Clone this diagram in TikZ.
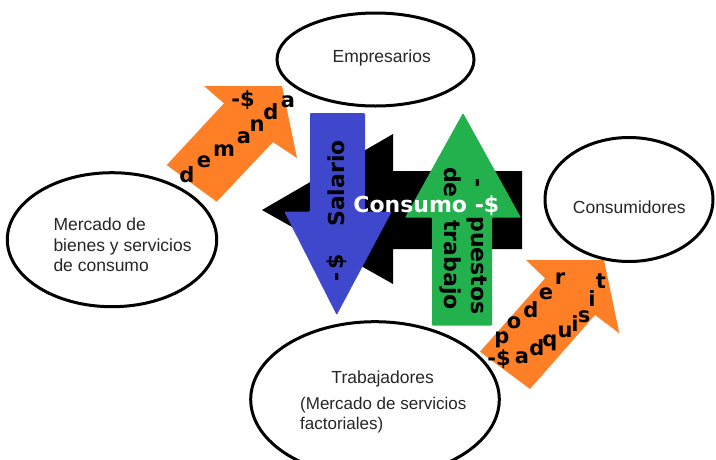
\documentclass[tikz,border=0pt]{standalone}
\usepackage{fontspec}
\setmainfont{Liberation Sans}
\newfontfamily\dvb{DejaVu Sans}
\definecolor{orng}{HTML}{FF7F27}
\definecolor{blu}{HTML}{3F48CC}
\definecolor{grn}{HTML}{22B14C}
\begin{document}
\begin{tikzpicture}[x=1pt,y=-1pt,
  lab/.style={font=\fontsize{17.5}{20.5}\selectfont, text=black!85, inner sep=0pt},
  blet/.style={font=\dvb\bfseries\fontsize{21}{24}\selectfont, inner sep=0pt},
  vtxt/.style={font=\dvb\bfseries\fontsize{22}{26}\selectfont, inner sep=0pt},
  bigw/.style={font=\dvb\bfseries\fontsize{22}{26}\selectfont, text=white, inner sep=0pt},
  ell/.style={draw=black, line width=3pt, fill=white}]
\useasboundingbox (0,0) rectangle (716,459);
\clip (0,0) rectangle (716,459);

% orange arrows
\fill[orng] (204,86) -- (282,86) -- (297,158) -- (273,142) -- (216.7,201.7) -- (166.7,165) -- (224,103.3) -- cycle;
\fill[orng] (526,260) -- (604,260) -- (619.3,333.3) -- (595,315) -- (530,389) -- (480,351.7) -- (545,278.3) -- cycle;

% black arrow (left)
\fill[black] (262,210) -- (393,134) -- (393,171) -- (522,171) -- (522,249) -- (393,249) -- (393,284) -- cycle;
% blue arrow (down)
\fill[blu, rounded corners=1pt] (310,113) -- (365,113) -- (365,211.7) -- (391.7,211.7) -- (336.7,315) -- (284.3,211.7) -- (310,211.7) -- cycle;
% green arrow (up)
\fill[grn, rounded corners=1pt] (463,113) -- (521,217.7) -- (492,217.7) -- (492,325.7) -- (432,325.7) -- (432,217.7) -- (405,217.7) -- cycle;

% ellipses
\coordinate (cEmp) at (375.5,59.5);
\coordinate (cCon) at (629,199.5);
\coordinate (cMer) at (112,239.7);
\coordinate (cTra) at (375,399.5);
\draw[ell] (cEmp) ellipse [x radius=98.5pt, y radius=46.5pt];
\draw[ell] (cCon) ellipse [x radius=84pt, y radius=62pt];
\draw[ell] (cMer) ellipse [x radius=104.7pt, y radius=67pt];
\draw[ell] (cTra) ellipse [x radius=124.3pt, y radius=77.8pt];

% ellipse texts
\node[lab] (tEmp) at (381.7,58.3) {Empresarios};
\node[lab] (tCon) at (629.3,207.3) {Consumidores};
\node[lab, align=left, anchor=west] (tMer) at (53.3,245) {Mercado de\\bienes y servicios\\de consumo};
\node[lab] (tTra) at (382.7,379.3) {Trabajadores};
\node[lab, align=left, anchor=west, font=\fontsize{17}{20.5}\selectfont] (tTra2) at (300,415) {(Mercado de servicios\\factoriales)};

% demanda letters
\node[blet] (d1) at (187,175) {d};
\node[blet] (d2) at (204,162) {e};
\node[blet] (d3) at (224,151) {m};
\node[blet] (d4) at (244,138) {a};
\node[blet] (d5) at (257,126) {n};
\node[blet] (d6) at (271,112) {d};
\node[blet] (d7) at (288,102) {a};
\node[blet] (d8) at (243,100) {-\$};

% poder adquisit letters
\node[blet] (p1) at (502,340) {p};
\node[blet] (p2) at (514,323) {o};
\node[blet] (p3) at (531,310) {d};
\node[blet] (p4) at (546,294) {e};
\node[blet] (p5) at (560,279) {r};
\node[blet] (q0) at (499,359) {-\$};
\node[blet] (q1) at (522,358) {a};
\node[blet] (q2) at (537,348) {d};
\node[blet] (q3) at (550,343) {q};
\node[blet] (q4) at (565,332) {u};
\node[blet] (q5) at (575,324) {i};
\node[blet] (q6) at (584,317) {s};
\node[blet] (q7) at (592,299) {i};
\node[blet] (q8) at (601,281) {t};

% vertical texts
\node[vtxt, rotate=90, anchor=base west] (sal) at (344,227) {Salario};
\node[vtxt, rotate=90, anchor=base west] (sald) at (343,282) {-\hspace{3pt}\$};
\node[vtxt, rotate=-90, anchor=base west] (pue) at (471,178) {-\hspace{29pt}puestos};
\node[vtxt, rotate=-90, anchor=base west] (dtr) at (444,167) {de};
\node[vtxt, rotate=-90, anchor=base west] (dtr2) at (444,220) {trabajo};

% consumo
\node[bigw, anchor=base] (cons) at (426.3,212.3) {Consumo -\$};
\end{tikzpicture}
\end{document}
